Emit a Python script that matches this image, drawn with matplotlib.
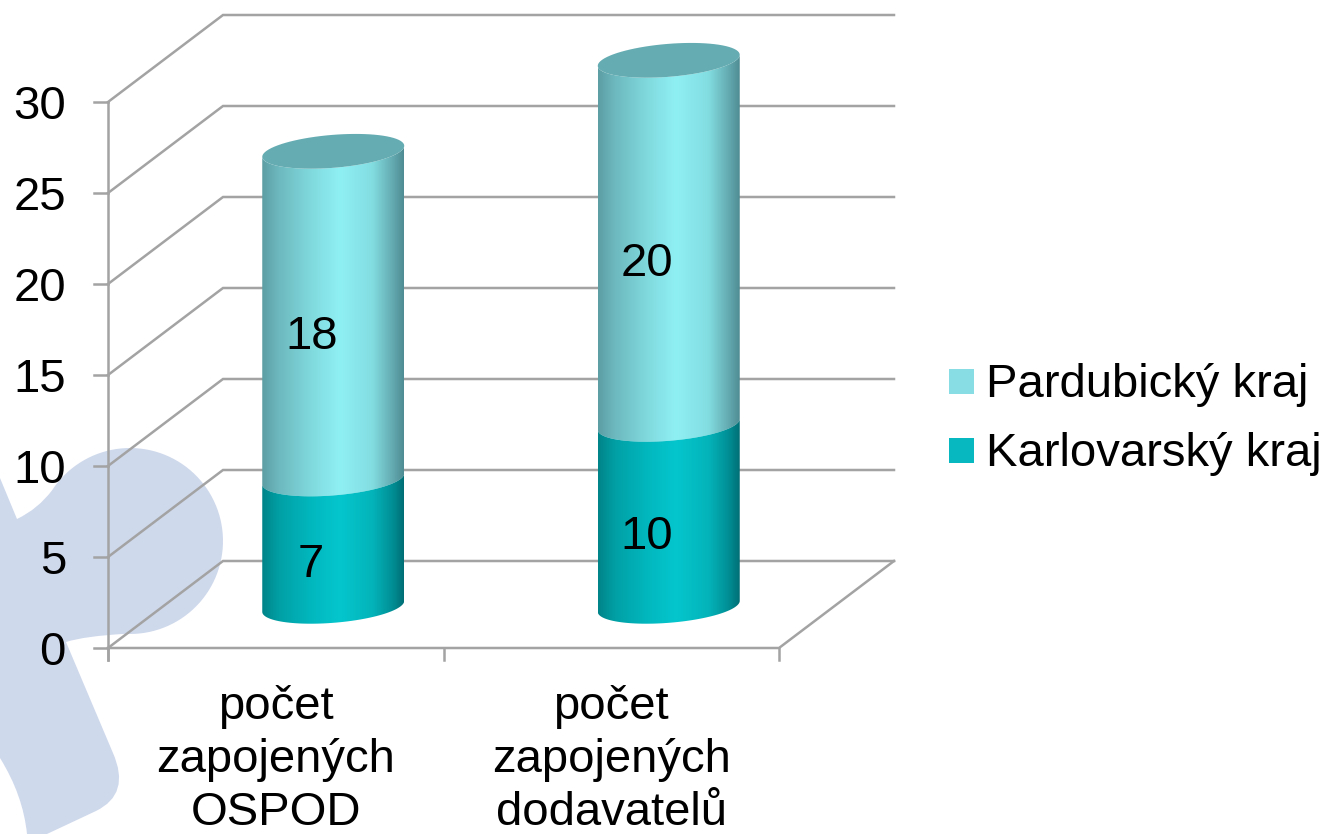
import numpy as np
import matplotlib
matplotlib.use('Agg')
import matplotlib.pyplot as plt
from matplotlib.colors import LinearSegmentedColormap
from matplotlib.patches import PathPatch, Polygon, Rectangle
from matplotlib.path import Path

plt.rcParams['font.family'] = ['Liberation Sans', 'DejaVu Sans']

categories = ['počet\nzapojených\nOSPOD', 'počet\nzapojených\ndodavatelů']
karlovarsky = [7, 10]
pardubicky = [18, 20]
y_ticks = [0, 5, 10, 15, 20, 25, 30]
series_names = ['Pardubický kraj', 'Karlovarský kraj']

# scale of the chart: pixels per category and per unit of y
PX_X = 335.5
PX_Y = 18.2
X0, Y0 = 108, 648
W, H = 1332, 834


def sx(px):
    return (px - X0) / PX_X


def sy(py):
    return (Y0 - py) / PX_Y


DEPTH_X = 115 / PX_X
DEPTH_Y = 87 / PX_Y
RAD = 71 / PX_X
MINOR = 16.5 / PX_Y
SHEAR = 5.5 / PX_Y
GRID = '#a3a3a3'
FS = 34

fig = plt.figure(figsize=(W / 100, H / 100), dpi=100)
ax = fig.add_axes([0, 0, 1, 1])
ax.axis('off')

# pale logo in the slide background: round head plus a curved stem
t = np.radians(np.linspace(147, -93, 80))
head = [(130 + 93 * np.cos(a), 541 - 93 * np.sin(a)) for a in t]
verts = [(0, 478), (17, 519), (38, 509)] + head
codes = [Path.MOVETO, Path.LINETO, Path.CURVE3] + [Path.CURVE3] + [Path.LINETO] * (len(head) - 1)
verts += [(85, 636), (66, 642), (113, 753), (131, 794), (96, 811), (47, 834), (27, 834), (23, 795), (0, 758), (0, 478)]
codes += [Path.CURVE3, Path.CURVE3, Path.LINETO, Path.CURVE3, Path.CURVE3, Path.LINETO, Path.LINETO,
          Path.CURVE3, Path.CURVE3, Path.CLOSEPOLY]
logo = Path([(sx(a), sy(b)) for a, b in verts], codes)
ax.add_patch(PathPatch(logo, fc='#cfd9ec', ec='none', zorder=0))

# walls and floor
for v in y_ticks:
    ax.plot([0, DEPTH_X, 2 + DEPTH_X], [v, v + DEPTH_Y, v + DEPTH_Y], color=GRID, lw=1.8, zorder=1,
            solid_joinstyle='miter')
    ax.plot([sx(94), 0], [v, v], color=GRID, lw=1.8, zorder=1)
    ax.text(sx(66), v - 17 / PX_Y, str(v), ha='right', va='baseline', fontsize=FS, color='black', zorder=6)
ax.plot([0, 0], [sy(660), y_ticks[-1]], color=GRID, lw=1.8, zorder=1)
ax.plot([0, 2, 2 + DEPTH_X], [0, 0, DEPTH_Y], color=GRID, lw=1.8, zorder=1, solid_joinstyle='miter')
for i in range(3):
    ax.plot([i, i], [0, sy(660)], color=GRID, lw=1.8, zorder=1)

light_cmap = LinearSegmentedColormap.from_list('light', [
    (0, '#5c9ea4'), (0.12, '#6db9bf'), (0.35, '#80dade'), (0.55, '#8ff0f4'),
    (0.78, '#82dde1'), (0.92, '#64abb1'), (1, '#4f8c93')])
dark_cmap = LinearSegmentedColormap.from_list('dark', [
    (0, '#008489'), (0.12, '#00a0a5'), (0.35, '#02b8bf'), (0.55, '#05c6cd'),
    (0.78, '#03b4ba'), (0.92, '#008f95'), (1, '#006f75')])
gradient = np.linspace(0, 1, 256).reshape(1, -1)


def arc(cx, v, start, end):
    t = np.linspace(start, end, 80)
    return np.column_stack([cx + RAD * np.cos(t), v + MINOR * np.sin(t) + SHEAR * np.cos(t)])


def draw_side(cx, low, high, cmap, z):
    # front half of the bottom ellipse, then back along the front half of the top one
    pts = np.vstack([arc(cx, low, np.pi, 2 * np.pi), arc(cx, high, 2 * np.pi, np.pi)])
    im = ax.imshow(gradient, cmap=cmap, aspect='auto', interpolation='bilinear', zorder=z,
                   extent=[cx - RAD, cx + RAD, low - 2, high + 2])
    im.set_clip_path(Polygon(pts, closed=True, transform=ax.transData))


centers = [0.5 + DEPTH_X / 2, 1.5 + DEPTH_X / 2]
base = DEPTH_Y / 2 - 0.1
for i, cx in enumerate(centers):
    low = karlovarsky[i]
    top = low + pardubicky[i]
    draw_side(cx, base + low, base + top, light_cmap, 3)
    draw_side(cx, base, base + low, dark_cmap, 4)
    cap = arc(cx, base + top, 0, 2 * np.pi)
    ax.add_patch(Polygon(cap, closed=True, fc='#64acb2', ec='none', zorder=5))
    # value labels sit lower and left of the middle of each segment
    ax.text(cx - 22 / PX_X, base + low / 2 - 34 / PX_Y, str(low), ha='center', va='baseline',
            fontsize=FS, color='black', zorder=6)
    ax.text(cx - 22 / PX_X, base + low + pardubicky[i] / 2 - 34 / PX_Y, str(pardubicky[i]),
            ha='center', va='baseline', fontsize=FS, color='black', zorder=6)

for i, label in enumerate(categories):
    ax.text(i + 0.5, sy(760), label, ha='center', va='center', fontsize=FS, color='black',
            linespacing=1.27, zorder=6)

# legend
legend_colors = ['#87dde3', '#08b8c0']
legend_y = [369, 438]
for name, col, py in zip(series_names, legend_colors, legend_y):
    ax.add_patch(Rectangle((sx(949), sy(py + 25)), 25 / PX_X, 25 / PX_Y, fc=col, ec='none', zorder=6))
    ax.text(sx(986), sy(py + 28), name, ha='left', va='baseline', fontsize=FS, color='black', zorder=6)

ax.set_xlim(sx(0), sx(W))
ax.set_ylim(sy(H), sy(0))
fig.savefig('out.png', dpi=100)
